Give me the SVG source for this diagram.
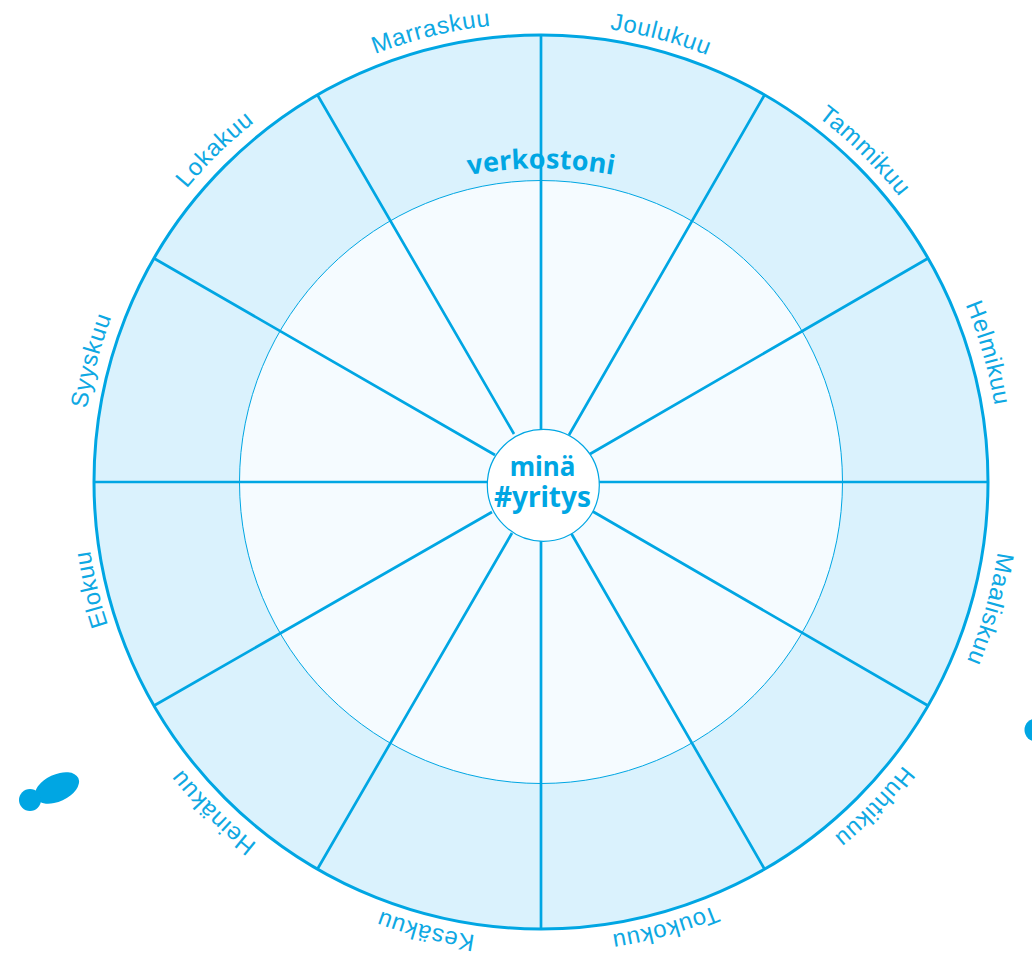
<svg xmlns="http://www.w3.org/2000/svg" width="1032" height="957" viewBox="0 0 1032 957">
<style>
.m{font-family:"Liberation Sans",Arial,sans-serif;font-size:24px;letter-spacing:.7px;fill:#0ea8e3;text-anchor:middle}
.b{font-family:"Noto Sans",sans-serif;font-weight:700;fill:#00a6e3;text-anchor:middle}
.s{stroke:#00a6e3;stroke-width:2.7;fill:none}
</style>
<defs>
<path id="r456" d="M541 26A456 456 0 1 1 540.99 26Z"/>
<path id="r458" d="M541 24A458 458 0 1 1 540.99 24Z"/>
<path id="r459" d="M541 23A459 459 0 1 1 540.99 23Z"/>
<path id="r460" d="M541 22A460 460 0 1 1 540.99 22Z"/>
<path id="r462" d="M541 20A462 462 0 1 1 540.99 20Z"/>
<path id="arcL" d="M341 222A400 400 0 0 1 741 222"/>
</defs>
<rect width="1032" height="957" fill="#fff"/>
<g id="wheel">
<circle cx="541" cy="482" r="447" fill="#daf2fd"/>
<circle cx="541" cy="482" r="301.500" fill="#f5fbff"/>
</g>
<g id="connectors" class="s">
<path d="M541 35V429M541 541V929M94 482H487M599 482H988"/>
<path d="M317.500 95L514 434M571 533L764.500 869"/>
<path d="M764.500 95L569 435M512 533L317.500 869"/>
<path d="M154.300 258.500L495 455M592 511L927.700 705.500"/>
<path d="M927.700 258.500L590 454M492 512L154.300 705.500"/>
</g>
<g id="rings">
<circle cx="541" cy="482" r="447" fill="none" stroke="#00a6e3" stroke-width="3"/>
<circle cx="541" cy="482" r="301.500" fill="none" stroke="#00a6e3" stroke-width="1"/>
</g>
<g id="center">
<circle cx="543.300" cy="485.300" r="56" fill="#fff" stroke="#00a6e3" stroke-width="1.200"/>
<text class="b"><tspan x="542.500" y="476" font-size="26">minä</tspan><tspan x="542.500" y="506.500" font-size="28">#yritys</tspan></text>
</g>
<g id="title">
<text class="b" font-size="27"><textPath href="#arcL" startOffset="50%">verkostoni</textPath></text>
</g>
<g id="labels">
<text class="m"><textPath href="#r458" startOffset="4.167%">Joulukuu</textPath></text>
<text class="m"><textPath href="#r458" startOffset="12.33%">Tammikuu</textPath></text>
<text class="m"><textPath href="#r460" startOffset="20.53%">Helmikuu</textPath></text>
<text class="m"><textPath href="#r462" startOffset="29.39%">Maaliskuu</textPath></text>
<text class="m"><textPath href="#r460" startOffset="37.3%">Huhtikuu</textPath></text>
<text class="m"><textPath href="#r458" startOffset="45.67%">Toukokuu</textPath></text>
<text class="m"><textPath href="#r458" startOffset="54%">Kesäkuu</textPath></text>
<text class="m"><textPath href="#r460" startOffset="62.44%">Heinäkuu</textPath></text>
<text class="m"><textPath href="#r456" startOffset="71.27%">Elokuu</textPath></text>
<text class="m"><textPath href="#r460" startOffset="79.2%">Syyskuu</textPath></text>
<text class="m"><textPath href="#r460" startOffset="87.66%">Lokakuu</textPath></text>
<text class="m"><textPath href="#r459" startOffset="96.19%">Marraskuu</textPath></text>
</g>
<g id="blobs" fill="#00a6e3">
<ellipse cx="57" cy="788" rx="23.500" ry="13.500" transform="rotate(-25 57 788)"/>
<circle cx="30" cy="800" r="11"/>
<circle cx="1036" cy="730" r="11.500"/>
</g>
</svg>
